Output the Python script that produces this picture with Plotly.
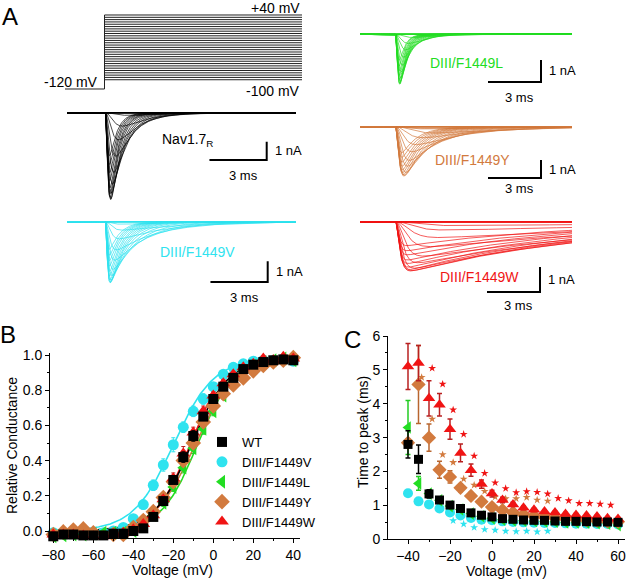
import numpy as np
import plotly.graph_objects as go

W, H = 640, 580
FONT = "Liberation Sans, Arial, Helvetica, sans-serif"

KEYS = ["WT", "V", "L", "Y", "W"]
COL = {"WT": "#000000", "V": "#2fe3ef", "L": "#22dd22", "Y": "#d27a3e", "W": "#f01414"}
ERRCOL = {"WT": "#000000", "V": "#2fe3ef", "L": "#22cc22", "Y": "#b8652e", "W": "#b82020"}
NAMES = {"WT": "WT", "V": "DIII/F1449V", "L": "DIII/F1449L", "Y": "DIII/F1449Y", "W": "DIII/F1449W"}
SYM = {"WT": "square", "V": "circle", "L": "triangle-left", "Y": "diamond", "W": "triangle-up"}

# ---------------- Panel B : relative conductance ----------------
volt_B = [-80, -75, -70, -65, -60, -55, -50, -45, -40, -35, -30, -25, -20,
          -15, -10, -5, 0, 5, 10, 15, 20, 25, 30, 35, 40]
g_wt = [-0.03, -0.02, -0.02, -0.025, -0.025, -0.025, -0.015, -0.015, 0.0, 0.015, 0.08, 0.17, 0.29,
        0.42, 0.54, 0.65, 0.75, 0.82, 0.87, 0.92, 0.945, 0.96, 0.97, 0.975, 0.97]
g_v = [-0.01, -0.01, -0.01, -0.015, -0.01, -0.01, 0.0, 0.02, 0.07, 0.15, 0.26, 0.375, 0.49,
       0.59, 0.68, 0.75, 0.82, 0.89, 0.93, 0.95, 0.965, 0.97, 0.97, 0.975, 0.965]
g_l = [-0.03, -0.025, -0.02, -0.02, -0.015, -0.01, -0.01, -0.01, 0.0, 0.03, 0.09, 0.16, 0.25,
       0.36, 0.47, 0.58, 0.68, 0.77, 0.85, 0.91, 0.94, 0.96, 0.97, 0.98, 0.97]
g_y = [-0.02, -0.005, 0.005, 0.012, -0.01, -0.045, -0.02, -0.02, 0.02, 0.06, 0.11, 0.19, 0.28,
       0.40, 0.50, 0.62, 0.71, 0.78, 0.83, 0.87, 0.91, 0.94, 0.96, 0.97, 0.985]
g_w = [-0.02, -0.02, -0.02, -0.025, -0.03, -0.03, -0.02, -0.01, 0.01, 0.04, 0.09, 0.18, 0.30,
       0.44, 0.56, 0.68, 0.77, 0.84, 0.89, 0.93, 0.95, 0.98, 0.97, 0.99, 0.98]
gerr_wt = [0.01] * 10 + [0.015, 0.02, 0.02, 0.03, 0.03, 0.02, 0.02, 0.02, 0.015, 0.01, 0.01, 0.01, 0.01, 0.01, 0.01]
gerr_v = [0.01] * 7 + [0.015, 0.02, 0.025, 0.03, 0.035, 0.04, 0.03, 0.03, 0.03, 0.02, 0.02, 0.015, 0.01, 0.01, 0.01, 0.01, 0.01, 0.01]
gerr_l = [0.01] * 10 + [0.015, 0.02, 0.025, 0.03, 0.03, 0.03, 0.025, 0.02, 0.02, 0.015, 0.01, 0.01, 0.01, 0.01, 0.01]
gerr_y = [0.01] * 10 + [0.015, 0.02, 0.02, 0.03, 0.03, 0.03, 0.025, 0.02, 0.02, 0.02, 0.015, 0.015, 0.01, 0.01, 0.01]
gerr_w = [0.01] * 10 + [0.015, 0.02, 0.03, 0.04, 0.03, 0.03, 0.02, 0.02, 0.015, 0.01, 0.01, 0.01, 0.01, 0.01, 0.01]
# Boltzmann fit parameters: V1/2 (mV), slope k (mV), top
fit_vhalf = {"WT": -11.0, "V": -20.0, "L": -8.0, "Y": -9.0, "W": -11.5}
fit_k = {"WT": 9.2, "V": 10.0, "L": 9.0, "Y": 10.0, "W": 8.8}
fit_top = {"WT": 0.98, "V": 0.98, "L": 0.98, "Y": 0.99, "W": 0.99}

# ---------------- Panel C : time to peak ----------------
volt_C = [-40, -35, -30, -25, -20, -15, -10, -5, 0, 5, 10, 15, 20, 25, 30, 35, 40, 45, 50, 55, 60]
ttp_wt = [2.80, 2.36, 1.34, 1.16, 1.01, 0.91, 0.78, 0.71, 0.66, 0.61, 0.59, 0.57, 0.56, 0.56, 0.54, 0.53, 0.53, 0.52, 0.51, 0.51, 0.50]
ttp_v = [1.36, 1.12, 1.03, 0.91, 0.79, 0.70, 0.63, 0.58, 0.56, 0.53, 0.51, 0.50, 0.49, 0.48, 0.48, 0.47, 0.46, 0.46, 0.45, 0.45, 0.44]
ttp_l = [3.30, 1.65, 1.35, 1.15, 0.98, 0.88, 0.76, 0.68, 0.62, 0.58, 0.56, 0.55, 0.54, 0.53, 0.52, 0.50, 0.50, 0.49, 0.48, 0.46, 0.42]
ttp_y = [2.85, 4.57, 3.00, 2.05, 1.84, 1.52, 1.28, 1.11, 0.95, 0.86, 0.79, 0.73, 0.69, 0.66, 0.63, 0.61, 0.59, 0.57, 0.55, 0.53, 0.52]
ttp_w = [5.10, 5.20, 4.16, 3.97, 3.25, 2.55, 2.04, 1.63, 1.35, 1.16, 1.03, 0.93, 0.87, 0.82, 0.79, 0.75, 0.72, 0.70, 0.67, 0.62, 0.60]
terr_wt = [0.40, 0.42, 0.12, 0.08, 0.06, 0.05, 0.04, 0.03, 0.03, 0.03, 0.02, 0.02, 0.02, 0.02, 0.02, 0.02, 0.02, 0.02, 0.02, 0.02, 0.02]
terr_v = [0.06, 0.05, 0.04, 0.04, 0.03, 0.03, 0.02, 0.02, 0.02, 0.02, 0.02, 0.02, 0.02, 0.02, 0.02, 0.02, 0.02, 0.02, 0.02, 0.02, 0.02]
terr_l = [0.80, 0.20, 0.10, 0.06, 0.05, 0.04, 0.03, 0.03, 0.03, 0.02, 0.02, 0.02, 0.02, 0.02, 0.02, 0.02, 0.02, 0.02, 0.02, 0.02, 0.02]
terr_y = [0.10, 1.15, 0.40, 0.25, 0.18, 0.12, 0.10, 0.08, 0.06, 0.05, 0.04, 0.04, 0.03, 0.03, 0.03, 0.03, 0.03, 0.03, 0.03, 0.03, 0.03]
terr_w = [0.68, 0.52, 0.52, 0.33, 0.30, 0.26, 0.18, 0.12, 0.10, 0.08, 0.06, 0.05, 0.05, 0.05, 0.04, 0.04, 0.04, 0.04, 0.04, 0.04, 0.04]
# significance asterisks (voltage, height in ms)
star_v_volt = [-20, -15, -10, -5, 0, 5, 10, 15, 20, 25]
star_v_y = [0.55, 0.45, 0.35, 0.29, 0.27, 0.24, 0.23, 0.24, 0.22, 0.24]
star_y_volt = [-35, -30, -25, -20, -15, -10, -5, 0, 5, 10, 15, 20, 25]
star_y_y = [4.78, 3.55, 2.50, 2.27, 1.78, 1.60, 1.42, 1.25, 1.20, 1.20, 1.24, 1.16, 1.13]
star_w_volt = [-40, -35, -30, -25, -20, -15, -10, -5, 0, 5, 10, 15, 20, 25, 30, 35, 40, 45, 50, 55]
star_w_y = [6.08, 6.03, 5.05, 4.58, 3.82, 3.10, 2.46, 1.95, 1.67, 1.50, 1.38, 1.41, 1.39, 1.34, 1.21, 1.14, 1.06, 1.06, 1.04, 1.01]

# ---------------- Panel A : protocol and example-cell kinetics ----------------
hold_mv = -120
step_volts = list(range(-100, 45, 5))
step_start_ms, step_end_ms, rec_start_ms = 0.0, 10.0, -2.0
erev_mv = 65.0
peak_nA = {"WT": 4.75, "V": 2.95, "L": 2.27, "Y": 2.74, "W": 1.97}
kin_volt = [-40, -35, -30, -25, -20, -15, -10, -5, 0, 5, 10, 15, 20, 25, 30, 35, 40]
# time to peak of the example sweeps (ms), estimated from the traces
cell_ttp_wt = [1.6, 1.2, 0.9, 0.7, 0.55, 0.45, 0.38, 0.33, 0.30, 0.28, 0.26, 0.25, 0.25, 0.24, 0.24, 0.23, 0.23]
cell_ttp_v = [0.9, 0.75, 0.6, 0.5, 0.42, 0.36, 0.32, 0.29, 0.27, 0.26, 0.25, 0.24, 0.24, 0.23, 0.23, 0.23, 0.22]
cell_ttp_l = [1.8, 1.0, 0.75, 0.6, 0.48, 0.40, 0.34, 0.30, 0.28, 0.26, 0.25, 0.24, 0.24, 0.23, 0.23, 0.22, 0.22]
cell_ttp_y = [1.8, 2.2, 1.6, 1.2, 0.95, 0.80, 0.68, 0.60, 0.53, 0.48, 0.45, 0.42, 0.40, 0.39, 0.38, 0.37, 0.36]
cell_ttp_w = [3.5, 3.6, 3.0, 2.5, 2.0, 1.6, 1.3, 1.1, 0.95, 0.85, 0.80, 0.75, 0.72, 0.70, 0.68, 0.67, 0.66]
# decay (inactivation) time constants of the example sweeps (ms)
tauh_wt = [2.0, 1.6, 1.3, 1.1, 0.95, 0.82, 0.72, 0.64, 0.58, 0.53, 0.49, 0.46, 0.44, 0.42, 0.40, 0.39, 0.38]
tauh_v = [3.0, 2.6, 2.2, 1.8, 1.5, 1.25, 1.05, 0.92, 0.82, 0.75, 0.70, 0.66, 0.63, 0.60, 0.58, 0.56, 0.55]
tauh_l = [1.6, 1.2, 0.95, 0.8, 0.68, 0.58, 0.50, 0.45, 0.41, 0.38, 0.36, 0.34, 0.33, 0.32, 0.31, 0.30, 0.30]
tauh_y = [4.5, 4.0, 3.4, 2.8, 2.3, 1.9, 1.65, 1.45, 1.3, 1.2, 1.1, 1.04, 1.0, 0.96, 0.93, 0.90, 0.88]
tauh_w = [22, 20, 17, 15, 13.5, 12.5, 11.5, 11, 10.5, 10, 9.8, 9.6, 9.4, 9.2, 9.0, 9.0, 9.0]
scale_ms, scale_nA = 3, 1

G = {"WT": g_wt, "V": g_v, "L": g_l, "Y": g_y, "W": g_w}
GERR = {"WT": gerr_wt, "V": gerr_v, "L": gerr_l, "Y": gerr_y, "W": gerr_w}
TTP = {"WT": ttp_wt, "V": ttp_v, "L": ttp_l, "Y": ttp_y, "W": ttp_w}
TERR = {"WT": terr_wt, "V": terr_v, "L": terr_l, "Y": terr_y, "W": terr_w}
CTTP = {"WT": cell_ttp_wt, "V": cell_ttp_v, "L": cell_ttp_l, "Y": cell_ttp_y, "W": cell_ttp_w}
TAUH = {"WT": tauh_wt, "V": tauh_v, "L": tauh_l, "Y": tauh_y, "W": tauh_w}

# ---------------- layout helpers (pixel geometry) ----------------
def dom(lo, hi, v_a, p_a, v_b, p_b, axis):
    s = (p_b - p_a) / (v_b - v_a)
    p1 = p_a + (lo - v_a) * s
    p2 = p_a + (hi - v_a) * s
    if axis == "x":
        return [min(p1, p2) / W, max(p1, p2) / W]
    return [1 - max(p1, p2) / H, 1 - min(p1, p2) / H]


def label(text, x, y, size=14, color="black", xanchor="left", yanchor="middle", angle=0):
    return dict(text=text, x=x / W, y=1 - y / H, xref="paper", yref="paper", showarrow=False,
                xanchor=xanchor, yanchor=yanchor, textangle=angle,
                font=dict(family=FONT, size=size, color=color))


PANEL = {
    "WT": dict(xp=(67, 296), base=112.7, ppn=18.3, bar=(266.7, 160), txt="Nav1.7<sub>R</sub>", tpos=(160, 140), msdy=15),
    "V": dict(xp=(67, 296), base=221.7, ppn=20.7, bar=(267.7, 282), txt="DIII/F1449V", tpos=(158, 252), msdy=15),
    "L": dict(xp=(360, 572), base=34.3, ppn=22.0, bar=(541, 82), txt="DIII/F1449L", tpos=(428, 63), msdy=15),
    "Y": dict(xp=(360, 572), base=126.7, ppn=18.0, bar=(541, 178), txt="DIII/F1449Y", tpos=(433, 160), msdy=11),
    "W": dict(xp=(360, 572), base=221.7, ppn=25.0, bar=(540, 292), txt="DIII/F1449W", tpos=(438, 277), msdy=13),
}

fig = go.Figure()
annotations = []
layout_axes = {}

# ---------------- Panel B ----------------
for k in ["V", "L", "Y", "W", "WT"]:
    vf = np.linspace(volt_B[0], volt_B[-1], 241)
    gf = fit_top[k] / (1 + np.exp((fit_vhalf[k] - vf) / fit_k[k]))
    fig.add_trace(go.Scatter(x=vf, y=gf, mode="lines", line=dict(color=COL[k], width=1.6),
                             showlegend=False, hoverinfo="skip", xaxis="x", yaxis="y"))
sizeB = {"WT": 10, "V": 11, "L": 12, "Y": 12, "W": 12}
rank = {"WT": 1, "V": 2, "L": 3, "Y": 4, "W": 5}
for k in ["V", "L", "Y", "W", "WT"]:
    fig.add_trace(go.Scatter(
        x=volt_B, y=G[k], mode="markers", name=NAMES[k], legendrank=rank[k],
        marker=dict(symbol=SYM[k], size=sizeB[k], color=COL[k], line=dict(width=0)),
        error_y=dict(type="data", array=GERR[k], color=ERRCOL[k], thickness=1, width=2),
        cliponaxis=False, xaxis="x", yaxis="y"))

axis_common = dict(showline=True, linecolor="black", linewidth=1, ticks="outside", ticklen=4,
                   tickcolor="black", tickwidth=1, showgrid=False, zeroline=False, automargin=False,
                   tickfont=dict(family=FONT, size=14, color="black"))
minor_x = dict(dtick=10, tick0=0, ticks="outside", ticklen=2, tickcolor="black", showgrid=False)
layout_axes["xaxis"] = dict(axis_common, domain=dom(-81.6, 43.4, -80, 53.3, 40, 293.3, "x"),
                            range=[-81.6, 43.4], anchor="y", tickvals=list(range(-80, 41, 20)), minor=minor_x)
layout_axes["yaxis"] = dict(axis_common, domain=dom(-0.04, 1.011, 0, 531, 1, 355, "y"),
                            range=[-0.04, 1.011], anchor="x", tickvals=[0, 0.2, 0.4, 0.6, 0.8, 1.0],
                            tickformat=".1f",
                            minor=dict(dtick=0.1, tick0=0, ticks="outside", ticklen=2, tickcolor="black", showgrid=False))
annotations += [label("Voltage (mV)", 172, 570, xanchor="center"),
                label("Relative Conductance", 12, 446, xanchor="center", angle=-90)]

# ---------------- Panel C ----------------
sizeC = {"WT": 9, "V": 10, "L": 11, "Y": 11, "W": 11}
stars = {"V": (star_v_volt, star_v_y), "Y": (star_y_volt, star_y_y), "W": (star_w_volt, star_w_y)}
for k in ["V", "L", "Y", "W", "WT"]:
    fig.add_trace(go.Scatter(
        x=volt_C, y=TTP[k], mode="markers", showlegend=False,
        marker=dict(symbol=SYM[k], size=sizeC[k], color=COL[k], line=dict(width=0)),
        error_y=dict(type="data", array=TERR[k], color=ERRCOL[k], thickness=1.5, width=2.5),
        cliponaxis=False, xaxis="x2", yaxis="y2"))
    if k in stars:
        sv, sy = stars[k]
        fig.add_trace(go.Scatter(
            x=[v + 1.5 for v in sv], y=sy, mode="markers", showlegend=False, hoverinfo="skip",
            marker=dict(symbol="star", size=6, color=COL[k], line=dict(width=0)),
            cliponaxis=False, xaxis="x2", yaxis="y2"))

layout_axes["xaxis2"] = dict(axis_common, domain=dom(-49.5, 63.3, -40, 408, 60, 618, "x"),
                             range=[-49.5, 63.3], anchor="y2", tickvals=list(range(-40, 61, 20)), minor=minor_x)
layout_axes["yaxis2"] = dict(axis_common, domain=dom(0, 6, 0, 539.3, 6, 336, "y"),
                             range=[0, 6], anchor="x2", tickvals=list(range(0, 7)),
                             minor=dict(dtick=0.5, tick0=0, ticks="outside", ticklen=2, tickcolor="black", showgrid=False))
annotations += [label("Voltage (mV)", 506, 571, xanchor="center"),
                label("Time to peak (ms)", 363, 432, xanchor="center", angle=-90)]

hidden = dict(visible=False, showgrid=False, zeroline=False, fixedrange=True, automargin=False)

# ---------------- Panel A : voltage protocol ----------------
px, py = [], []
px += [rec_start_ms, step_start_ms, step_start_ms, None]
py += [hold_mv, hold_mv, max(step_volts), None]
for v in step_volts:
    px += [step_start_ms, step_end_ms, None]
    py += [v, v, None]
fig.add_trace(go.Scatter(x=px, y=py, mode="lines", line=dict(color="#222222", width=1),
                         showlegend=False, hoverinfo="skip", xaxis="x3", yaxis="y3"))
layout_axes["xaxis3"] = dict(hidden, domain=dom(-2.1, 10.1, -2, 65, 10, 302, "x"), range=[-2.1, 10.1], anchor="y3")
layout_axes["yaxis3"] = dict(hidden, domain=dom(-126, 46, -120, 89, 40, 15, "y"), range=[-126, 46], anchor="x3")
annotations += [label("+40 mV", 302, 8, xanchor="right"),
                label("-100 mV", 302, 91, xanchor="right"),
                label("-120 mV", 100, 82, xanchor="right")]

# ---------------- Panel A : current families ----------------
t_rec = np.linspace(rec_start_ms, step_end_ms, 961)


def value_at(volts, vals, v):
    if v <= volts[0]:
        return vals[0]
    return vals[volts.index(v)]


def solve_x(ttp, th):
    lo, hi = 1e-6, 60.0
    for _ in range(100):
        mid = 0.5 * (lo + hi)
        f = 3 * th * mid * np.exp(-mid) - ttp * (1 - np.exp(-mid))
        if f > 0:
            lo = mid
        else:
            hi = mid
    return 0.5 * (lo + hi)


def family(k):
    gmap = dict(zip(volt_B, G[k]))
    amps, shapes = [], []
    for v in step_volts:
        g = max(gmap.get(v, 0.0), 0.0)
        amps.append(g * (erev_mv - v))
        ttp = value_at(kin_volt, CTTP[k], v)
        th = value_at(kin_volt, TAUH[k], v)
        x = solve_x(ttp, th)
        tm = ttp / x
        tt = np.clip(t_rec - step_start_ms, 0, None)
        w = (1 - np.exp(-tt / tm)) ** 3 * np.exp(-tt / th)
        wmax = (1 - np.exp(-x)) ** 3 * np.exp(-ttp / th)
        shapes.append(w / wmax)
    amps = np.array(amps)
    amps = amps * peak_nA[k] / amps.max()
    xs, ys = [], []
    for a, s in zip(amps, shapes):
        xs += list(t_rec) + [None]
        ys += list(-a * s) + [None]
    return xs, ys


for i, k in enumerate(KEYS):
    n = i + 4
    P = PANEL[k]
    L, R = P["xp"]
    ppm = (R - L) / (step_end_ms - rec_start_ms)
    xs, ys = family(k)
    fig.add_trace(go.Scatter(x=xs, y=ys, mode="lines", line=dict(color=COL[k], width=0.7),
                             showlegend=False, hoverinfo="skip", xaxis=f"x{n}", yaxis=f"y{n}"))
    cx, cy = P["bar"]
    t_c = rec_start_ms + (cx - L) / ppm
    y_c = (P["base"] - cy) / P["ppn"]
    fig.add_trace(go.Scatter(x=[t_c - scale_ms, t_c, t_c], y=[y_c, y_c, y_c + scale_nA], mode="lines",
                             line=dict(color="black", width=2), showlegend=False, hoverinfo="skip",
                             xaxis=f"x{n}", yaxis=f"y{n}"))
    ylo = min(-(peak_nA[k] + 0.4), y_c - 0.4)
    layout_axes[f"xaxis{n}"] = dict(hidden, domain=dom(-2.1, 10.1, -2, L, 10, R, "x"), range=[-2.1, 10.1], anchor=f"y{n}")
    layout_axes[f"yaxis{n}"] = dict(hidden, domain=dom(ylo, 0.4, 0, P["base"], -1, P["base"] + P["ppn"], "y"),
                                    range=[ylo, 0.4], anchor=f"x{n}")
    annotations.append(label(P["txt"], P["tpos"][0], P["tpos"][1], color=COL[k]))
    annotations.append(label(f"{scale_nA} nA", cx + 6, cy - P["ppn"] * scale_nA / 2, size=13))
    annotations.append(label(f"{scale_ms} ms", cx - scale_ms * ppm / 2 + 5, cy + P["msdy"], size=13, xanchor="center"))

# panel letters
annotations += [label("A", 10, 16, size=24, xanchor="center"),
                label("B", 8, 334, size=24, xanchor="center"),
                label("C", 352, 340, size=24, xanchor="center")]

fig.update_layout(
    width=W, height=H, margin=dict(l=0, r=0, t=0, b=0, autoexpand=False),
    paper_bgcolor="white", plot_bgcolor="rgba(0,0,0,0)",
    font=dict(family=FONT, size=14, color="black"),
    showlegend=True, hovermode=False,
    legend=dict(x=202 / W, y=1 - 427 / H, xanchor="left", yanchor="top", bgcolor="rgba(0,0,0,0)",
                font=dict(family=FONT, size=13, color="black"), tracegroupgap=0),
    annotations=annotations,
    **layout_axes,
)

fig.write_html("out.html", config={"displayModeBar": False},
               post_script="document.body.style.margin='0px';document.body.style.overflow='hidden';")
